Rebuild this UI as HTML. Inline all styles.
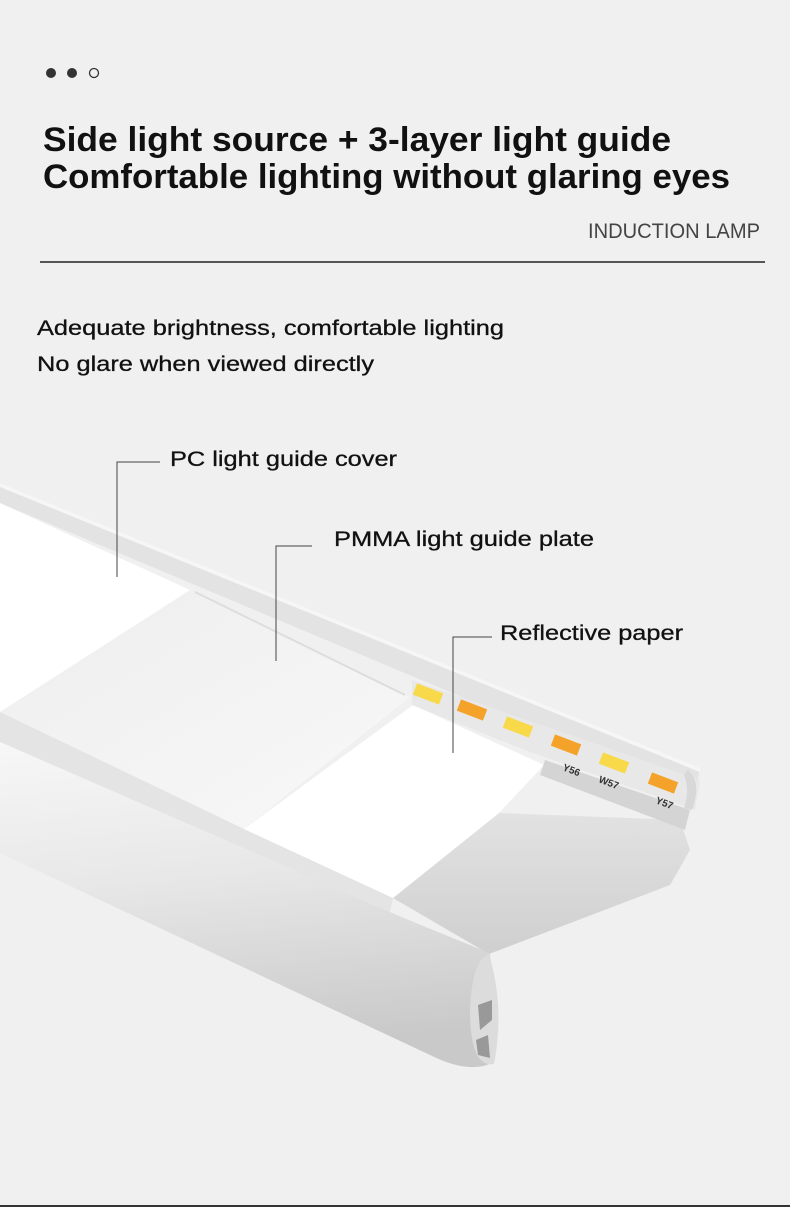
<!DOCTYPE html>
<html><head><meta charset="utf-8"><style>
body{margin:0;width:790px;height:1207px;overflow:hidden;background:#f0f0f0;font-family:"Liberation Sans",Arial,sans-serif}
svg{position:absolute;left:0;top:0}
</style></head><body>
<svg width="790" height="1207" viewBox="0 0 790 1207" xmlns="http://www.w3.org/2000/svg">
<defs>
<linearGradient id="tube" x1="0" y1="0" x2="0.15" y2="1">
<stop offset="0" stop-color="#f7f7f7"/><stop offset="0.45" stop-color="#e8e8e8"/><stop offset="1" stop-color="#c9c9c9"/></linearGradient>
<linearGradient id="pm" x1="0" y1="0" x2="1" y2="1">
<stop offset="0" stop-color="#eeeeee"/><stop offset="1" stop-color="#f8f8f8"/></linearGradient>
<linearGradient id="ch" x1="0" y1="0" x2="0" y2="1">
<stop offset="0" stop-color="#e2e2e2"/><stop offset="1" stop-color="#cfcfcf"/></linearGradient>
</defs>
<rect width="790" height="1207" fill="#f0f0f0"/>
<circle cx="51" cy="73" r="5" fill="#333"/><circle cx="72" cy="73" r="5" fill="#333"/><circle cx="94" cy="73" r="4.5" fill="none" stroke="#333" stroke-width="1.3"/>
<text x="43" y="151" font-size="34" font-weight="bold" fill="#111" textLength="628" lengthAdjust="spacingAndGlyphs">Side light source + 3-layer light guide</text>
<text x="43" y="188" font-size="34" font-weight="bold" fill="#111" textLength="687" lengthAdjust="spacingAndGlyphs">Comfortable lighting without glaring eyes</text>
<text x="588" y="238" font-size="21" fill="#444" textLength="172" lengthAdjust="spacingAndGlyphs">INDUCTION LAMP</text>
<rect x="40" y="261" width="725" height="2" fill="#555"/>
<text x="37" y="335" font-size="21" fill="#111" textLength="467" lengthAdjust="spacingAndGlyphs" stroke="#111" stroke-width="0.3">Adequate brightness, comfortable lighting</text>
<text x="37" y="371" font-size="21" fill="#111" textLength="337" lengthAdjust="spacingAndGlyphs" stroke="#111" stroke-width="0.3">No glare when viewed directly</text>

<polygon points="0,483 700,768 695,795 0,503" fill="#e3e3e3"/>
<polygon points="0,483 700,768 700,772 0,487" fill="#f6f6f6"/>
<polygon points="0,503 190,590 0,712" fill="#ffffff"/>
<polygon points="190,590 410,697 244,829 0,714" fill="url(#pm)"/>
<line x1="195" y1="592" x2="405" y2="695" stroke="#ddd" stroke-width="2"/>
<polygon points="0,712 244,829 393,898 390,912 0,742" fill="#e4e4e4"/>
<polygon points="499,813 680,820 690,850 670,885 489,954 393,898" fill="url(#ch)"/>
<polygon points="413,705 544,765 499,813 393,898 244,829" fill="#ffffff"/>
<polygon points="412,680 700,780 695,810 530,752 412,705" fill="#e8e8e8"/>
<polygon points="545,760 690,810 685,830 540,775" fill="#d4d4d4"/>
<text x="562" y="770" font-size="10" font-weight="bold" fill="#333" transform="rotate(21 562 770)">Y56</text>
<text x="598" y="782" font-size="10" font-weight="bold" fill="#333" transform="rotate(21 598 782)">W57</text>
<text x="655" y="803" font-size="10" font-weight="bold" fill="#333" transform="rotate(21 655 803)">Y57</text>
<g transform="rotate(21 428 694)"><rect x="414" y="688" width="28" height="12" fill="#f8d94a"/></g>
<g transform="rotate(21 472 710)"><rect x="458" y="704" width="28" height="12" fill="#f4a22a"/></g>
<g transform="rotate(21 518 727)"><rect x="504" y="721" width="28" height="12" fill="#f8d94a"/></g>
<g transform="rotate(21 566 745)"><rect x="552" y="739" width="28" height="12" fill="#f4a22a"/></g>
<g transform="rotate(21 614 763)"><rect x="600" y="757" width="28" height="12" fill="#f8d94a"/></g>
<g transform="rotate(21 663 783)"><rect x="649" y="777" width="28" height="12" fill="#f4a22a"/></g>
<path d="M688,770 Q702,782 692,810 L684,808 Q690,790 684,775Z" fill="#d8d8d8"/>
<path d="M0,742 L390,912 Q420,925 490,953 L494,1062 Q470,1075 430,1055 L0,853 Z" fill="url(#tube)"/>
<path d="M489,954 Q505,1008 494,1064 Q470,1068 470,1010 Q472,960 489,954Z" fill="#dcdcdc"/>
<path d="M478,1005 L492,1000 L492,1020 L480,1030 Z M476,1040 L488,1035 L490,1058 L478,1055Z" fill="#999"/>

<g stroke="#444" stroke-width="1" fill="none">
<polyline points="160,462 117,462 117,577"/>
<polyline points="312,546 276,546 276,661"/>
<polyline points="492,637 453,637 453,753"/>
</g>
<text x="170" y="466" font-size="21" fill="#111" textLength="227" lengthAdjust="spacingAndGlyphs" stroke="#111" stroke-width="0.3">PC light guide cover</text>
<text x="334" y="546" font-size="21" fill="#111" textLength="260" lengthAdjust="spacingAndGlyphs" stroke="#111" stroke-width="0.3">PMMA light guide plate</text>
<text x="500" y="640" font-size="21" fill="#111" textLength="183" lengthAdjust="spacingAndGlyphs" stroke="#111" stroke-width="0.3">Reflective paper</text>
<rect x="0" y="1205" width="790" height="2" fill="#333"/>
</svg>
</body></html>
